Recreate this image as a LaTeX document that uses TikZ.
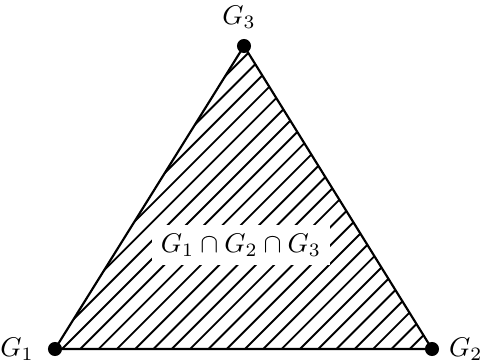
\documentclass[tikz,border=0pt]{standalone}
\begin{document}
\begin{tikzpicture}[x=0.37pt,y=0.37pt,
  edge/.style={line width=0.8pt},
  hatch/.style={line width=0.7pt},
  dot/.style={circle,fill=black,inner sep=0pt,minimum size=5.2pt},
  capbox/.style={fill=white,inner sep=3.33pt}]
\useasboundingbox (0,0) rectangle (480,360);
\coordinate (A) at (55,11);
\coordinate (B) at (432,11);
\coordinate (C) at (244,314);
\begin{scope}
  \clip (A) -- (B) -- (C) -- cycle;
  \foreach \k in {-8,...,20} {
    \draw[hatch] ({62+18.3*\k-20},-9) -- ++(400,400);
  }
\end{scope}
\draw[edge,line join=round] (A) -- (B) -- (C) -- cycle;
\node[capbox] (cap) at (241,115) {$G_1\cap G_2\cap G_3$};
\node[dot,label={[label distance=1.5pt]left:$G_1$}] (g1) at (A) {};
\node[dot,label={right:$G_2$}] (g2) at (B) {};
\node[dot,label={[xshift=-1.8pt]above:$G_3$}] (g3) at (C) {};
\end{tikzpicture}
\end{document}
